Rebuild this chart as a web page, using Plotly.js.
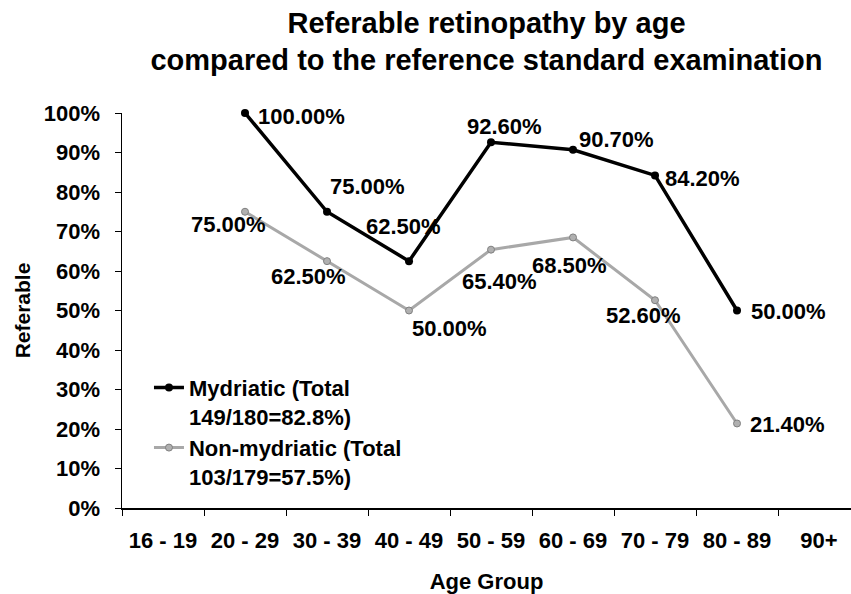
<!DOCTYPE html>
<html><head><meta charset="utf-8">
<script src="https://cdn.plot.ly/plotly-3.0.1.min.js"></script>
<style>html,body{margin:0;padding:0;background:#fff}#chart{width:851px;height:594px}</style>
</head><body><div id="chart"></div>
<script>
var categories = ['16 - 19','20 - 29','30 - 39','40 - 49','50 - 59','60 - 69','70 - 79','80 - 89','90+'];
var mydriatic = [null, 100.0, 75.0, 62.5, 92.6, 90.7, 84.2, 50.0, null];
var nonMydriatic = [null, 75.0, 62.5, 50.0, 65.4, 68.5, 52.6, 21.4, null];
var seriesNames = ['Mydriatic (Total<br>149/180=82.8%)', 'Non-mydriatic (Total<br>103/179=57.5%)'];
var yTickVals = [0,10,20,30,40,50,60,70,80,90,100];

// label offsets (styling only), pixels relative to each point
var mydShift = [null,[56,-3],[40,25],[-6,35],[13,16],[43,10],[47,-3],[51,-1],null];
var nonShift = [null,[-17,-13],[-19,-15],[40,-18],[8,-32],[-4,-28],[-12,-15],[50,-1],null];

var FONT = 'Liberation Sans, Arial, sans-serif';
var traces = [
  {x: categories, y: mydriatic, name: seriesNames[0], type: 'scatter', mode: 'lines+markers',
   line: {color: '#000', width: 3.5}, marker: {color: '#000', size: 8}, cliponaxis: false},
  {x: categories, y: nonMydriatic, name: seriesNames[1], type: 'scatter', mode: 'lines+markers',
   line: {color: '#a8a8a8', width: 3}, marker: {color: '#b0b0b0', size: 7, line: {color: '#808080', width: 1}}, cliponaxis: false}
];
var annotations = [];
function addLabels(vals, shifts) {
  for (var i = 0; i < vals.length; i++) {
    if (vals[i] === null) continue;
    annotations.push({x: categories[i], y: vals[i], xref: 'x', yref: 'y', text: vals[i].toFixed(2) + '%',
      showarrow: false, xanchor: 'center', yanchor: 'middle', xshift: shifts[i][0], yshift: shifts[i][1],
      font: {family: FONT, size: 22, color: '#000', weight: 'bold'}});
  }
}
addLabels(mydriatic, mydShift);
addLabels(nonMydriatic, nonShift);

var layout = {
  width: 851, height: 594,
  margin: {l: 122, r: 0, t: 113, b: 86},
  paper_bgcolor: '#fff', plot_bgcolor: '#fff',
  font: {family: FONT, color: '#000', weight: 'bold'},
  title: {text: 'Referable retinopathy by age<br>compared to the reference standard examination',
    font: {family: FONT, size: 29, color: '#000', weight: 'bold'}, x: 0.5, xref: 'paper', y: 0.945, yref: 'container', yanchor: 'top'},
  xaxis: {type: 'category', categoryorder: 'array', categoryarray: categories, range: [-0.5, 8.39],
    showline: true, linecolor: '#000', linewidth: 1.5, showgrid: false, zeroline: false,
    ticks: 'outside', tickson: 'boundaries', ticklen: 6, tickcolor: '#000', tickwidth: 1,
    tickfont: {family: FONT, size: 22, color: '#000', weight: 'bold'}, ticklabelstandoff: 12,
    title: {text: 'Age Group', font: {family: FONT, size: 22, color: '#000', weight: 'bold'}, standoff: 23}},
  yaxis: {range: [0, 100], tickvals: yTickVals, ticktext: yTickVals.map(function(v){return v + '%';}),
    showline: true, linecolor: '#000', linewidth: 1.5, showgrid: false, zeroline: false,
    ticks: 'outside', ticklen: 6, tickcolor: '#000', tickwidth: 1,
    tickfont: {family: FONT, size: 22, color: '#000', weight: 'bold'}, ticklabelstandoff: 10,
    title: {text: 'Referable', font: {family: FONT, size: 21, color: '#000', weight: 'bold'}, standoff: 7}},
  showlegend: true,
  legend: {x: 0.037, y: 0.358, xanchor: 'left', yanchor: 'top', bgcolor: 'rgba(0,0,0,0)', valign: 'top',
    font: {family: FONT, size: 22, color: '#000', weight: 'bold'}, tracegroupgap: 4, itemwidth: 30},
  annotations: annotations
};
Plotly.newPlot('chart', traces, layout, {displayModeBar: false, staticPlot: true});
</script></body></html>
